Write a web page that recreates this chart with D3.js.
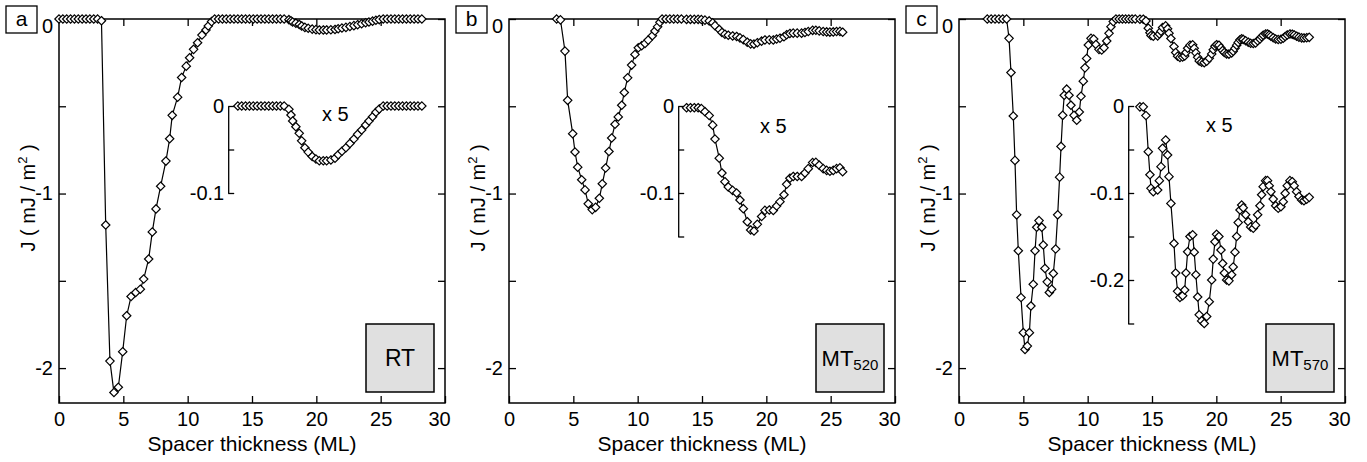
<!DOCTYPE html>
<html>
<head>
<meta charset="utf-8">
<script src="https://cdn.jsdelivr.net/npm/d3@7"></script>
<style>
  body { margin: 0; background: #fff; }
  svg { font-family: "Liberation Sans", Arial, Helvetica, sans-serif; }
</style>
</head>
<body>
<svg id="fig" width="1367" height="462"></svg>
<script>
"use strict";

// [spacer thickness (ML), J (mJ/m^2)]
var seriesRT = [
  [0,0],[0.3,0],[0.6,0],[0.9,0],[1.2,0],[1.5,0],[1.8,0],[2.1,0],[2.4,0],[2.7,0],[3.0,0],[3.3,-0.01],
  [3.63,-1.18],[3.96,-1.96],[4.27,-2.14],[4.61,-2.11],[4.95,-1.906],[5.26,-1.70],[5.60,-1.59],[5.96,-1.567],
  [6.32,-1.548],[6.58,-1.49],[6.97,-1.375],[7.25,-1.22],[7.54,-1.088],[7.90,-0.958],[8.31,-0.814],[8.60,-0.686],
  [8.80,-0.552],[9.22,-0.448],[9.53,-0.335],[9.89,-0.27],[10.15,-0.222],[10.46,-0.174],[10.77,-0.136],
  [11.11,-0.092],[11.42,-0.063],[11.6,-0.040],[11.86,-0.015],
  [12.1,0],[12.4,0],[12.7,0],[13.0,0],[13.3,0],[13.6,0],[13.9,0],[14.2,0],[14.5,0],[14.8,0],[15.1,0],[15.4,0],
  [15.7,0],[16.0,0],[16.3,0],[16.6,0],[16.9,0],[17.2,0],[17.5,0],
  [17.87,-0.0038],[18.03,-0.0103],[18.16,-0.0172],[18.41,-0.0238],[18.67,-0.0314],[18.86,-0.040],[19.11,-0.048],
  [19.37,-0.053],[19.68,-0.058],[19.97,-0.061],[20.23,-0.063],[20.54,-0.063],[20.80,-0.063],[21.13,-0.062],
  [21.45,-0.060],[21.70,-0.056],[21.99,-0.052],[22.30,-0.048],[22.61,-0.043],[22.92,-0.038],[23.21,-0.0326],
  [23.52,-0.0276],[23.83,-0.0218],[24.09,-0.0172],[24.37,-0.0123],[24.63,-0.0072],[24.89,-0.0034],
  [25.2,0],[25.5,0],[25.8,0],[26.1,0],[26.4,0],[26.7,0],[27.0,0],[27.3,0],[27.6,0],[27.9,0],[28.2,0]
];

var seriesMT520 = [
  [3.7,0],[4.0,-0.005],[4.35,-0.184],[4.56,-0.466],[4.95,-0.657],[5.13,-0.762],[5.34,-0.849],[5.65,-0.921],
  [5.91,-0.979],[6.16,-1.059],[6.47,-1.092],[6.73,-1.079],[7.02,-1.027],[7.25,-0.944],[7.51,-0.854],[7.77,-0.759],
  [7.98,-0.682],[8.24,-0.603],[8.49,-0.561],[8.76,-0.494],[8.96,-0.421],[9.22,-0.337],[9.53,-0.264],[9.79,-0.203],
  [10.05,-0.165],[10.31,-0.153],[10.57,-0.140],[10.82,-0.121],[11.14,-0.096],[11.34,-0.069],[11.55,-0.044],
  [11.73,-0.019],[11.9,0],[12.2,0],[12.5,0],[12.8,0],[13.1,0],[13.4,0],
  [13.8,-0.002],[14.1,-0.002],[14.4,-0.002],[14.7,-0.002],[14.95,-0.003],[15.23,-0.0065],[15.56,-0.011],
  [15.83,-0.022],[16.01,-0.038],[16.34,-0.060],[16.55,-0.077],[16.78,-0.087],[17.04,-0.093],[17.38,-0.097],
  [17.69,-0.100],[17.95,-0.108],[18.21,-0.118],[18.52,-0.133],[18.78,-0.1425],[19.04,-0.1437],[19.30,-0.136],
  [19.63,-0.127],[19.89,-0.120],[20.23,-0.1195],[20.54,-0.120],[20.80,-0.115],[21.06,-0.110],[21.37,-0.102],
  [21.58,-0.090],[21.83,-0.083],[22.09,-0.081],[22.40,-0.081],[22.74,-0.081],[23.0,-0.077],[23.26,-0.072],
  [23.60,-0.065],[23.85,-0.0648],[24.11,-0.068],[24.42,-0.072],[24.69,-0.074],[24.94,-0.075],[25.2,-0.074],
  [25.46,-0.072],[25.72,-0.071],[25.93,-0.0755]
];

var seriesMT570 = [
  [2.2,0],[2.5,0],[2.8,0],[3.1,0],[3.4,0],[3.7,0],[3.89,-0.111],[4.04,-0.307],[4.22,-0.556],[4.35,-0.810],
  [4.48,-1.122],[4.61,-1.328],[4.82,-1.596],[5.0,-1.797],[5.13,-1.893],[5.31,-1.874],[5.47,-1.797],[5.59,-1.644],
  [5.77,-1.52],[5.91,-1.328],[6.04,-1.193],[6.22,-1.155],[6.43,-1.193],[6.55,-1.295],[6.68,-1.429],[6.86,-1.506],
  [7.02,-1.567],[7.20,-1.548],[7.33,-1.458],[7.51,-1.318],[7.67,-1.122],[7.82,-0.906],[7.93,-0.730],[8.06,-0.552],
  [8.18,-0.437],[8.37,-0.402],[8.55,-0.437],[8.70,-0.494],[8.94,-0.552],[9.15,-0.580],[9.35,-0.533],[9.48,-0.443],
  [9.66,-0.356],[9.79,-0.280],[9.92,-0.226],[10.05,-0.149],[10.26,-0.111],[10.47,-0.115],[10.64,-0.146],
  [10.88,-0.174],[11.09,-0.178],[11.27,-0.165],[11.48,-0.126],[11.66,-0.082],[11.81,-0.044],[11.99,-0.015],
  [12.2,0],[12.45,0],[12.7,0],[12.95,0],[13.2,0],[13.45,0],[13.7,0],
  [14.06,-0.001],[14.32,-0.001],[14.53,-0.011],[14.71,-0.0525],[14.84,-0.079],[14.92,-0.0946],[15.10,-0.0985],
  [15.44,-0.0966],[15.57,-0.0858],[15.70,-0.0697],[15.82,-0.0487],[16.06,-0.039],[16.21,-0.0563],[16.32,-0.0812],
  [16.47,-0.112],[16.71,-0.158],[16.84,-0.192],[16.99,-0.213],[17.17,-0.220],[17.38,-0.218],[17.54,-0.2115],
  [17.64,-0.192],[17.77,-0.1675],[17.95,-0.150],[18.16,-0.148],[18.28,-0.168],[18.41,-0.194],[18.55,-0.2195],
  [18.67,-0.240],[18.86,-0.247],[19.06,-0.250],[19.25,-0.242],[19.45,-0.225],[19.64,-0.200],[19.76,-0.176],
  [19.89,-0.156],[20.02,-0.1475],[20.20,-0.150],[20.36,-0.1655],[20.49,-0.181],[20.62,-0.192],[20.80,-0.200],
  [20.98,-0.201],[21.19,-0.194],[21.31,-0.185],[21.45,-0.168],[21.58,-0.150],[21.70,-0.134],[21.84,-0.1195],
  [21.97,-0.1138],[22.09,-0.117],[22.28,-0.125],[22.48,-0.133],[22.67,-0.139],[22.87,-0.1406],[23.05,-0.137],
  [23.21,-0.125],[23.39,-0.1146],[23.52,-0.102],[23.64,-0.0927],[23.83,-0.0858],[23.98,-0.0858],[24.11,-0.0916],
  [24.24,-0.0985],[24.42,-0.107],[24.61,-0.1146],[24.81,-0.1176],[25.02,-0.1157],[25.20,-0.110],[25.35,-0.1004],
  [25.51,-0.0916],[25.72,-0.0858],[25.90,-0.087],[26.05,-0.0916],[26.24,-0.0985],[26.42,-0.104],[26.63,-0.108],
  [26.81,-0.1088],[27.02,-0.1072],[27.22,-0.105]
];

var xTicks = [0, 5, 10, 15, 20, 25, 30];
var xMinorTicks = [5, 10, 15, 20, 25];
var yTicks = [0, -0.5, -1, -1.5, -2];
var yLabels = [0, -1, -2];
var insetLabels = [0, -0.1, -0.2];

var panels = [
  { letter: "a", tag: "RT", sub: "", data: seriesRT, insetMin: -0.1,
    insetTicks: [0, -0.05, -0.1], x5: [263, 121] },
  { letter: "b", tag: "MT", sub: "520", data: seriesMT520, insetMin: -0.15,
    insetTicks: [0, -0.05, -0.1, -0.15], x5: [251, 133] },
  { letter: "c", tag: "MT", sub: "570", data: seriesMT570, insetMin: -0.25,
    insetTicks: [0, -0.05, -0.1, -0.15, -0.2, -0.25], x5: [247, 132] }
];

var svg = d3.select("#fig");
var W = 386, TOP = 19, BOTTOM = 403;
var INSET0 = 106, INSET_PX = 870;   // pixels per mJ/m^2 in the x5 inset
var diamond = "M0,-4.2L4.2,0L0,4.2L-4.2,0Z";
var TICKFONT = 20;

function styleAxis(sel, size) {
  sel.attr("font-family", null).attr("font-size", size);
  sel.selectAll("line").attr("stroke", "#000").attr("stroke-width", 1.3);
  sel.selectAll("text").attr("fill", "#000");
}

function drawPanel(p, i) {
  var left = 59 + 450 * i;
  var g = svg.append("g");

  var x = d3.scaleLinear().domain([0, 30]).range([left, left + W]);
  var y = d3.scaleLinear().domain([-2.2, 0]).range([BOTTOM, TOP]);
  var yIn = d3.scaleLinear().domain([p.insetMin, 0])
    .range([INSET0 - p.insetMin * INSET_PX, INSET0]);

  // axes, ticks inward
  var ax = g.append("g").attr("transform", "translate(0," + BOTTOM + ")")
    .call(d3.axisBottom(x).tickValues(xTicks).tickSizeInner(-7).tickSizeOuter(0)
      .tickPadding(9).tickFormat(d3.format("d")));
  ax.select(".domain").remove();
  ax.selectAll(".tick").filter(function(d) { return d === 30 }).select("text").attr("dx", -6);
  styleAxis(ax, TICKFONT);

  var at = g.append("g").attr("transform", "translate(0," + TOP + ")")
    .call(d3.axisTop(x).tickValues(xMinorTicks).tickSizeInner(-7).tickSizeOuter(0).tickFormat(""));
  at.select(".domain").remove();
  styleAxis(at, TICKFONT);

  var al = g.append("g").attr("transform", "translate(" + left + ",0)")
    .call(d3.axisLeft(y).tickValues(yTicks).tickSizeInner(-7).tickSizeOuter(0).tickPadding(6)
      .tickFormat(function(d) { return yLabels.indexOf(d) >= 0 ? String(d) : "" }));
  al.select(".domain").remove();
  al.selectAll(".tick").filter(function(d) { return d === 0 }).select("text").attr("y", 7);
  styleAxis(al, TICKFONT);

  var ar = g.append("g").attr("transform", "translate(" + (left + W) + ",0)")
    .call(d3.axisRight(y).tickValues(yTicks).tickSizeInner(-7).tickSizeOuter(0).tickFormat(""));
  ar.select(".domain").remove();
  styleAxis(ar, TICKFONT);

  g.append("rect")
    .attr("x", left).attr("y", TOP).attr("width", W).attr("height", BOTTOM - TOP)
    .attr("fill", "none").attr("stroke", "#000").attr("stroke-width", 1.5);

  // inset axis
  var ai = g.append("g").attr("transform", "translate(" + x(13.15) + ",0)")
    .call(d3.axisLeft(yIn).tickValues(p.insetTicks).tickSizeInner(-6).tickSizeOuter(0).tickPadding(4)
      .tickFormat(function(d) { return insetLabels.indexOf(d) >= 0 ? String(d) : "" }));
  ai.select(".domain").attr("stroke", "#000").attr("stroke-width", 1.3);
  styleAxis(ai, TICKFONT);

  // main curve
  var line = d3.line().x(function(d) { return x(d[0]) }).y(function(d) { return y(d[1]) });
  g.append("path").datum(p.data).attr("d", line)
    .attr("fill", "none").attr("stroke", "#000").attr("stroke-width", 1.2);
  g.append("g").selectAll("path").data(p.data).join("path")
    .attr("d", diamond)
    .attr("transform", function(d) { return "translate(" + x(d[0]) + "," + y(d[1]) + ")" })
    .attr("fill", "#fff").attr("stroke", "#000").attr("stroke-width", 1.2);

  // x5 inset curve
  var insetData = p.data.filter(function(d) { return d[0] >= 13.8 });
  var lineIn = d3.line().x(function(d) { return x(d[0]) }).y(function(d) { return yIn(d[1]) });
  g.append("path").datum(insetData).attr("d", lineIn)
    .attr("fill", "none").attr("stroke", "#000").attr("stroke-width", 1.2);
  g.append("g").selectAll("path").data(insetData).join("path")
    .attr("d", diamond)
    .attr("transform", function(d) { return "translate(" + x(d[0]) + "," + yIn(d[1]) + ")" })
    .attr("fill", "#fff").attr("stroke", "#000").attr("stroke-width", 1.2);

  g.append("text").attr("x", left + p.x5[0]).attr("y", p.x5[1])
    .attr("font-size", TICKFONT).text("x 5");

  // panel letter
  g.append("rect").attr("x", left - 53).attr("y", 6).attr("width", 31).attr("height", 27)
    .attr("fill", "#fff").attr("stroke", "#000").attr("stroke-width", 1.3);
  g.append("text").attr("x", left - 37.5).attr("y", 26).attr("text-anchor", "middle")
    .attr("font-size", 21).text(p.letter);

  // condition tag
  g.append("rect").attr("x", left + 307).attr("y", 324).attr("width", 68).attr("height", 68)
    .attr("fill", "#e0e0e0").attr("stroke", "#000").attr("stroke-width", 1.5);
  var tg = g.append("text").attr("x", left + 341).attr("y", 366).attr("text-anchor", "middle")
    .attr("font-size", p.sub ? 22 : 23);
  tg.append("tspan").text(p.tag);
  if (p.sub) tg.append("tspan").attr("font-size", 15).attr("dy", 4).text(p.sub);

  // axis titles
  g.append("text").attr("x", left + W / 2).attr("y", 451).attr("text-anchor", "middle")
    .attr("font-size", 21).text("Spacer thickness (ML)");
  var yt = g.append("text").attr("transform", "translate(" + (left - 24) + ",198) rotate(-90)")
    .attr("text-anchor", "middle").attr("font-size", 20);
  yt.append("tspan").text("J ( mJ / m");
  yt.append("tspan").attr("font-size", 13).attr("dy", -8).text("2");
  yt.append("tspan").attr("dy", 8).text(" )");
}

panels.forEach(drawPanel);
</script>
</body>
</html>
